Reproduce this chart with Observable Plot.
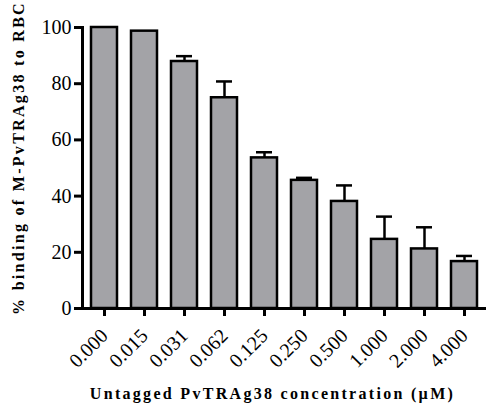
<!DOCTYPE html>
<html>
<head>
<meta charset="utf-8">
<script src="https://cdn.jsdelivr.net/npm/d3@7"></script>
<script src="https://cdn.jsdelivr.net/npm/@observablehq/plot@0.6"></script>
<style>
  html, body { margin: 0; padding: 0; background: #fff; }
  svg { display: block; }
</style>
</head>
<body>
<div id="chart"></div>
<script>
const concentrations = ["0.000","0.015","0.031","0.062","0.125","0.250","0.500","1.000","2.000","4.000"];
const binding = [100, 98.7, 87.9, 75.0, 53.6, 45.6, 38.1, 24.6, 21.2, 16.7];
const errors = [0, 0, 1.9, 5.8, 2.0, 0.9, 5.7, 8.1, 7.7, 2.0];
const yTicks = [0, 20, 40, 60, 80, 100];

const data = concentrations.map((c, i) => ({c, v: binding[i], e: errors[i]}));
const withErr = data.filter(d => d.e > 0);

const font = "Liberation Serif";

const chart = Plot.plot({
  width: 493,
  height: 406,
  marginLeft: 82,
  marginRight: 7,
  marginTop: 27,
  marginBottom: 98,
  style: {background: "#fff", color: "#000"},
  x: {domain: concentrations, paddingInner: 0.356, paddingOuter: 0.173, label: null},
  y: {domain: [0, 100], label: null},
  marks: [
    Plot.barY(data, {x: "c", y: "v", fill: "#a3a3a7", stroke: "#000", strokeWidth: 2.5}),
    Plot.ruleX(withErr, {x: "c", y1: "v", y2: d => d.v + d.e, stroke: "#000", strokeWidth: 2.5}),
    Plot.tickY(withErr, {x: "c", y: d => d.v + d.e, stroke: "#000", strokeWidth: 2.5, insetLeft: 5, insetRight: 5}),
    Plot.ruleY([0], {stroke: "#000", strokeWidth: 3}),
    Plot.frame({anchor: "left", stroke: "#000", strokeWidth: 3}),
    Plot.axisY({ticks: yTicks, tickSize: 8, tickPadding: 3, strokeWidth: 3, fontSize: 20, label: null}),
    Plot.axisX({tickSize: 8, tickPadding: 16, strokeWidth: 3, tickRotate: -45, fontSize: 20, label: null}),
    Plot.text(["% binding of M-PvTRAg38 to RBC"], {
      frameAnchor: "left", dx: -64, dy: -10, rotate: -90, textAnchor: "middle", fontSize: 16, fontWeight: "bold",
      fill: "#000", text: d => d
    }),
    Plot.text(["Untagged PvTRAg38 concentration (µM)"], {
      frameAnchor: "bottom", dy: 90, dx: -12, fontSize: 16, fontWeight: "bold",
      fill: "#000", text: d => d
    })
  ]
});
chart.setAttribute("font-family", font);
chart.style.fontFamily = font;
chart.querySelectorAll("g, text").forEach(t => {
  t.setAttribute("font-family", font);
  t.style.fontFamily = font;
  const s = t.textContent;
  if (t.tagName === "text" && (s.startsWith("%") || s.startsWith("Untagged"))) t.setAttribute("letter-spacing", "2.3px");
});
document.getElementById("chart").appendChild(chart);
</script>
</body>
</html>
